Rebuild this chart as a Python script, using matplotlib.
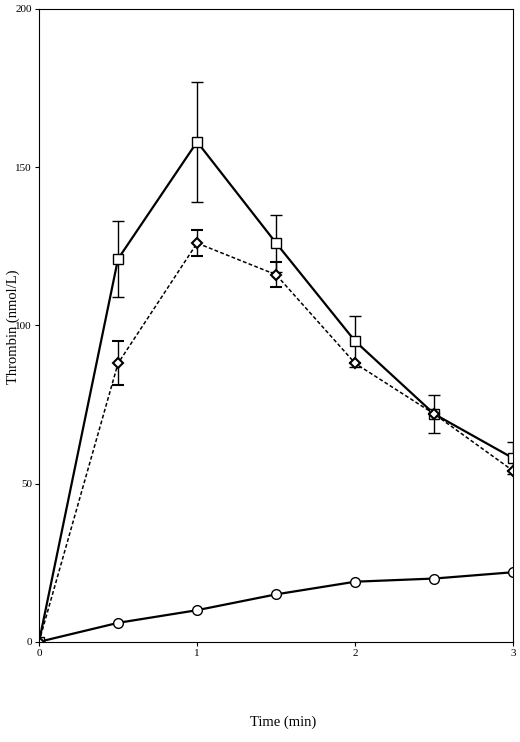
import matplotlib
matplotlib.use("Agg")
import matplotlib.pyplot as plt

t = [0, 0.5, 1, 1.5, 2, 2.5, 3]
sq = [0, 121, 158, 126, 95, 72, 58]
sq_err = [0, 12, 19, 9, 8, 6, 5]
di = [0, 88, 126, 116, 88, 72, 54]
di_err = [0, 7, 4, 4, 0, 0, 0]
ci = [0, 6, 10, 15, 19, 20, 22]
xticks = [0, 1, 2, 3]
yticks = [0, 50, 100, 150, 200]

plt.rcParams['font.family'] = ['Liberation Serif', 'DejaVu Serif']
fig = plt.figure(figsize=(5.2, 7.42), dpi=100)
ax = fig.add_axes([0.075, 0.135, 0.912, 0.853])
ax.errorbar(t, sq, yerr=sq_err, color='black', lw=1.6, marker='s', ms=7,
            mfc='white', mec='black', capsize=4, elinewidth=1)
ax.errorbar(t, di, yerr=di_err, color='black', lw=1.1, ls=(0, (2.5, 1.5)), marker='D', ms=5,
            mfc='white', mec='black', mew=1.5, capsize=4, elinewidth=1)
ax.plot(t, ci, color='black', lw=1.6, marker='o', ms=7, mfc='white', mec='black')
ax.set_xlim(0, 3)
ax.set_ylim(0, 200)
ax.set_xticks(xticks)
ax.set_yticks(yticks)
ax.tick_params(labelsize=8, length=3, pad=2)
fig.text(0.012, 0.56, 'Thrombin (nmol/L)', rotation=90, fontsize=10.5, ha='left', va='center')
fig.text(0.545, 0.018, 'Time (min)', fontsize=10.5, ha='center', va='bottom')
fig.savefig('out.png', dpi=100)
